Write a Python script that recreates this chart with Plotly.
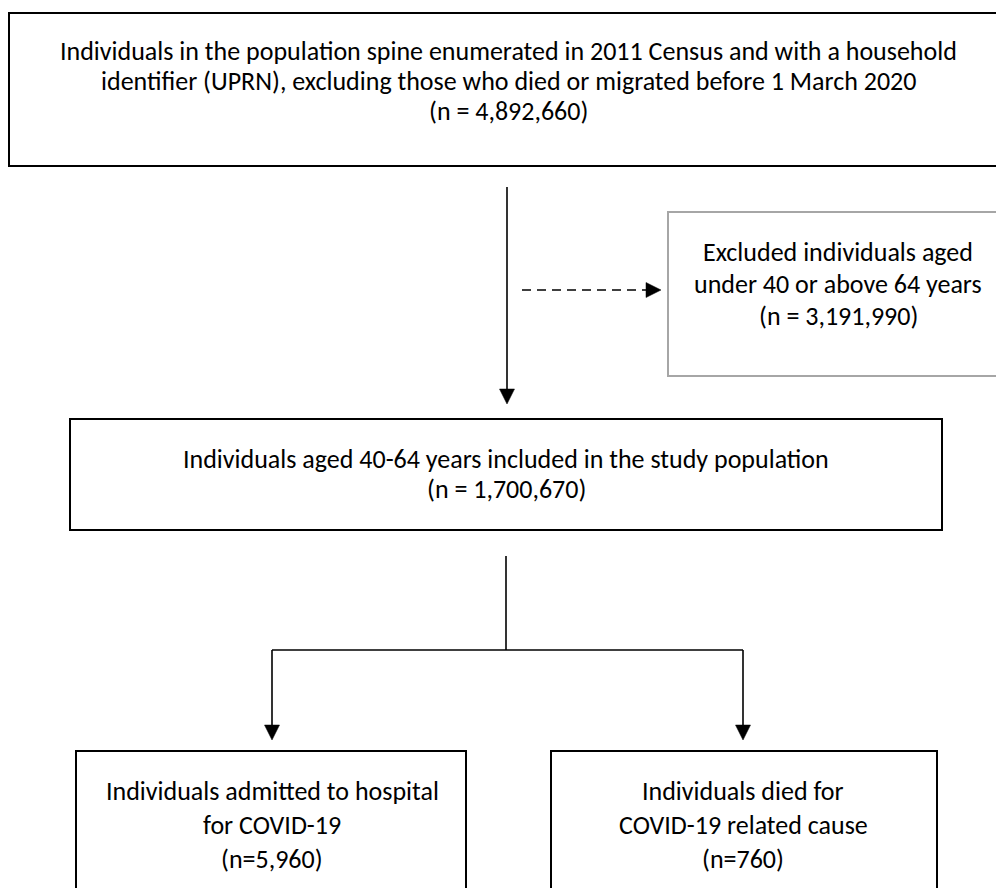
import plotly.graph_objects as go

# ---- content (values / labels) ----
box_titles = [
    ["Individuals in the population spine enumerated in 2011 Census and with a household",
     "identifier (UPRN), excluding those who died or migrated before 1 March 2020"],
    ["Excluded individuals aged", "under 40 or above 64 years"],
    ["Individuals aged 40-64 years included in the study population"],
    ["Individuals admitted to hospital", "for COVID-19"],
    ["Individuals died for", "COVID-19 related cause"],
]
counts = [4892660, 3191990, 1700670, 5960, 760]
count_fmt = ["(n = {:,})", "(n = {:,})", "(n = {:,})", "(n={:,})", "(n={:,})"]

# ---- layout geometry (pixels, y downward) ----
W, H = 996, 888
boxes = [  # x0, y0, x1, y1, colour, text centre x, first line y, line step
    dict(x0=9, y0=13, x1=1010, y1=166, col="#000000", cx=508, ly=51, step=30),
    dict(x0=668, y0=212, x1=1010, y1=376, col="#a6a6a6", cx=838, ly=252, step=32),
    dict(x0=70, y0=419, x1=942, y1=530, col="#000000", cx=506, ly=459, step=30),
    dict(x0=76, y0=751, x1=466, y1=905, col="#000000", cx=272, ly=791, step=34),
    dict(x0=551, y0=751, x1=937, y1=905, col="#000000", cx=743, ly=791, step=34),
]
FONT = dict(family="Carlito, Lato, sans-serif", size=26, color="#000000")

fig = go.Figure()
shapes = []
annotations = []

for b, lines, n, fmt in zip(boxes, box_titles, counts, count_fmt):
    shapes.append(dict(type="rect", xref="x", yref="y", x0=b["x0"], y0=b["y0"],
                       x1=b["x1"], y1=b["y1"], line=dict(color=b["col"], width=2),
                       fillcolor="rgba(0,0,0,0)", layer="above"))
    all_lines = lines + [fmt.format(n)]
    for i, t in enumerate(all_lines):
        annotations.append(dict(x=b["cx"], y=b["ly"] + i * b["step"], xref="x", yref="y",
                                text=t, showarrow=False, font=FONT, borderpad=0,
                                xanchor="center", yanchor="middle"))

LW = 1.6
# connector lines (solid): x0, y0, x1, y1
segments = [
    (507, 187, 507, 392),   # top -> middle
    (506, 556, 506, 650),   # middle -> split
    (272, 650, 743, 650),   # horizontal split
    (272, 650, 272, 728),   # to left box
    (743, 650, 743, 728),   # to right box
]
for x0, y0, x1, y1 in segments:
    shapes.append(dict(type="line", xref="x", yref="y", x0=x0, y0=y0, x1=x1, y1=y1,
                       line=dict(color="#000000", width=LW)))
# dashed exclusion arrow
shapes.append(dict(type="line", xref="x", yref="y", x0=522, y0=290, x1=648, y1=290,
                   line=dict(color="#000000", width=LW, dash="9px,6px")))

# arrow heads (filled triangles built from tip position)
HW, HL = 7.5, 15


def head(tx, ty, direction):
    if direction == "down":
        pts = [(tx, ty), (tx - HW, ty - HL), (tx + HW, ty - HL)]
    else:  # right
        pts = [(tx, ty), (tx - HL, ty - HW), (tx - HL, ty + HW)]
    p = "M " + " L ".join(f"{x},{y}" for x, y in pts) + " Z"
    return dict(type="path", xref="x", yref="y", path=p, fillcolor="#000000",
                line=dict(color="#000000", width=0.5))


for tx, ty, d in [(507, 404, "down"), (272, 740, "down"), (743, 740, "down"), (661, 290, "right")]:
    shapes.append(head(tx, ty, d))

fig.update_layout(
    width=W, height=H, margin=dict(l=0, r=0, t=0, b=0),
    paper_bgcolor="white", plot_bgcolor="white",
    xaxis=dict(range=[0, W], visible=False, fixedrange=True),
    yaxis=dict(range=[H, 0], visible=False, fixedrange=True),
    shapes=shapes, annotations=annotations, showlegend=False,
)
fig.write_html("out.html", config={"displayModeBar": False},
               post_script="document.body.style.margin='0px';document.body.style.overflow='hidden';")
